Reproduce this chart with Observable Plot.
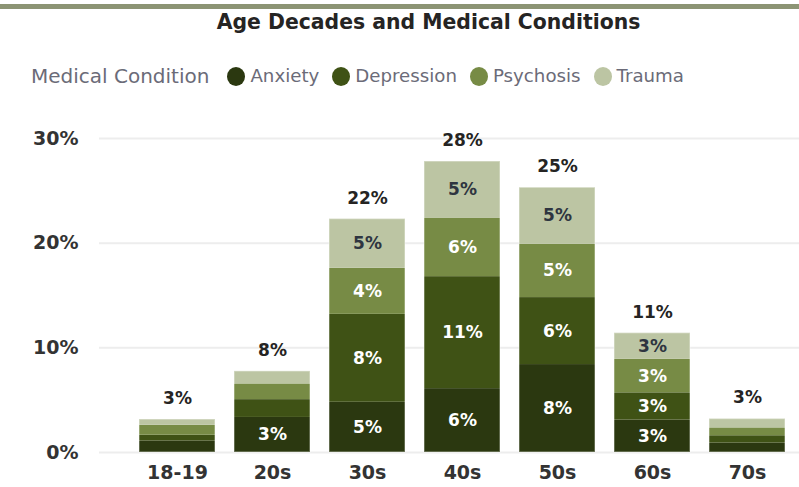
<!DOCTYPE html>
<html><head><meta charset="utf-8">
<script src="https://cdn.jsdelivr.net/npm/d3@7"></script>
<script src="https://cdn.jsdelivr.net/npm/@observablehq/plot@0.6"></script>
<style>
body{margin:0;background:#fff;font-family:"DejaVu Sans",sans-serif;width:799px;height:487px;overflow:hidden;position:relative}
#band{position:absolute;left:0;top:4px;width:799px;height:5px;background:#8c9474}
#title{position:absolute;top:10px;left:58px;width:741px;text-align:center;font-weight:bold;font-size:20.4px;color:#252423;line-height:24px}
#legend{position:absolute;top:64px;left:31px;display:flex;align-items:center;font-size:18.2px;color:#6b6b78;line-height:24px}
#legend .t{margin-right:18px;font-size:20px}
#legend .it{display:flex;align-items:center;margin-right:13px}
#legend .sw{width:18px;height:19px;border-radius:50%;margin-right:5px}
#chart{position:absolute;left:0;top:100px}
</style></head>
<body>
<div id="band"></div>
<div id="title">Age Decades and Medical Conditions</div>
<div id="legend"></div>
<div id="chart"></div>
<script>
const ageGroups = ["18-19","20s","30s","40s","50s","60s","70s"];
const conditions = ["Anxiety","Depression","Psychosis","Trauma"];
const anxiety    = [1.1, 3.35, 4.8, 6.1, 8.4, 3.1, 0.9];
const depression = [0.55, 1.7, 8.4, 10.7, 6.4, 2.6, 0.7];
const psychosis  = [0.95, 1.5, 4.4, 5.6, 5.1, 3.2, 0.75];
const trauma     = [0.55, 1.2, 4.7, 5.4, 5.4, 2.5, 0.85];
const colors = ["#2b3810", "#3f5215", "#778b45", "#bcc5a3"];
const yTicks = [0, 10, 20, 30];

const series = [anxiety, depression, psychosis, trauma];
const rows = [];
conditions.forEach((c, j) => ageGroups.forEach((a, i) => rows.push({age: a, condition: c, value: series[j][i]})));
const totals = ageGroups.map((a, i) => ({age: a, total: d3.sum(series, s => s[i])}));

// legend
const lg = document.getElementById("legend");
lg.innerHTML = `<span class="t">Medical Condition</span>` + conditions.map((c, j) =>
  `<span class="it"><span class="sw" style="background:${colors[j]}"></span>${c}</span>`).join("");

const lbl = (cond) => d => (d.value >= 2.4 && cond(d.condition)) ? Math.round(d.value) + "%" : "";

const chart = Plot.plot({
  width: 799,
  height: 387,
  marginTop: 38,
  marginBottom: 35,
  marginLeft: 99,
  marginRight: 0,
  style: {fontFamily: "DejaVu Sans, sans-serif", background: "#fff"},
  x: {domain: ageGroups, range: [127.7, 796.8], paddingInner: 0.2, paddingOuter: 0.1, label: null},
  y: {domain: [0, 30], label: null},
  color: {domain: conditions, range: colors},
  marks: [
    Plot.ruleY(yTicks, {stroke: "#ededed", strokeWidth: 2}),
    Plot.barY(rows, {x: "age", y: "value", fill: "condition"}),
    Plot.barY(totals, {x: "age", y: "total", fill: "none", stroke: "#ffffff", strokeOpacity: 0.35, strokeWidth: 1.5}),
    Plot.text(rows, Plot.stackY({x: "age", y: "value", text: lbl(c => c !== "Trauma"),
      fill: "#fff", fontSize: 17, fontWeight: "bold"})),
    Plot.text(rows, Plot.stackY({x: "age", y: "value", text: lbl(c => c === "Trauma"),
      fill: "#2e3540", fontSize: 17, fontWeight: "bold"})),
    Plot.text(totals, {x: "age", y: "total", text: d => Math.round(d.total) + "%", dy: -21,
      fill: "#252423", fontSize: 17, fontWeight: "bold"}),
    Plot.axisY({ticks: yTicks, tickFormat: d => d + "%", tickSize: 0, tickPadding: 21,
      fontSize: 19, fontWeight: "bold", fill: "#333", label: null}),
    Plot.axisX({tickSize: 0, tickPadding: 13, fontSize: 19, fontWeight: "bold", fill: "#333", label: null})
  ]
});
document.getElementById("chart").appendChild(chart);
</script>
</body></html>
